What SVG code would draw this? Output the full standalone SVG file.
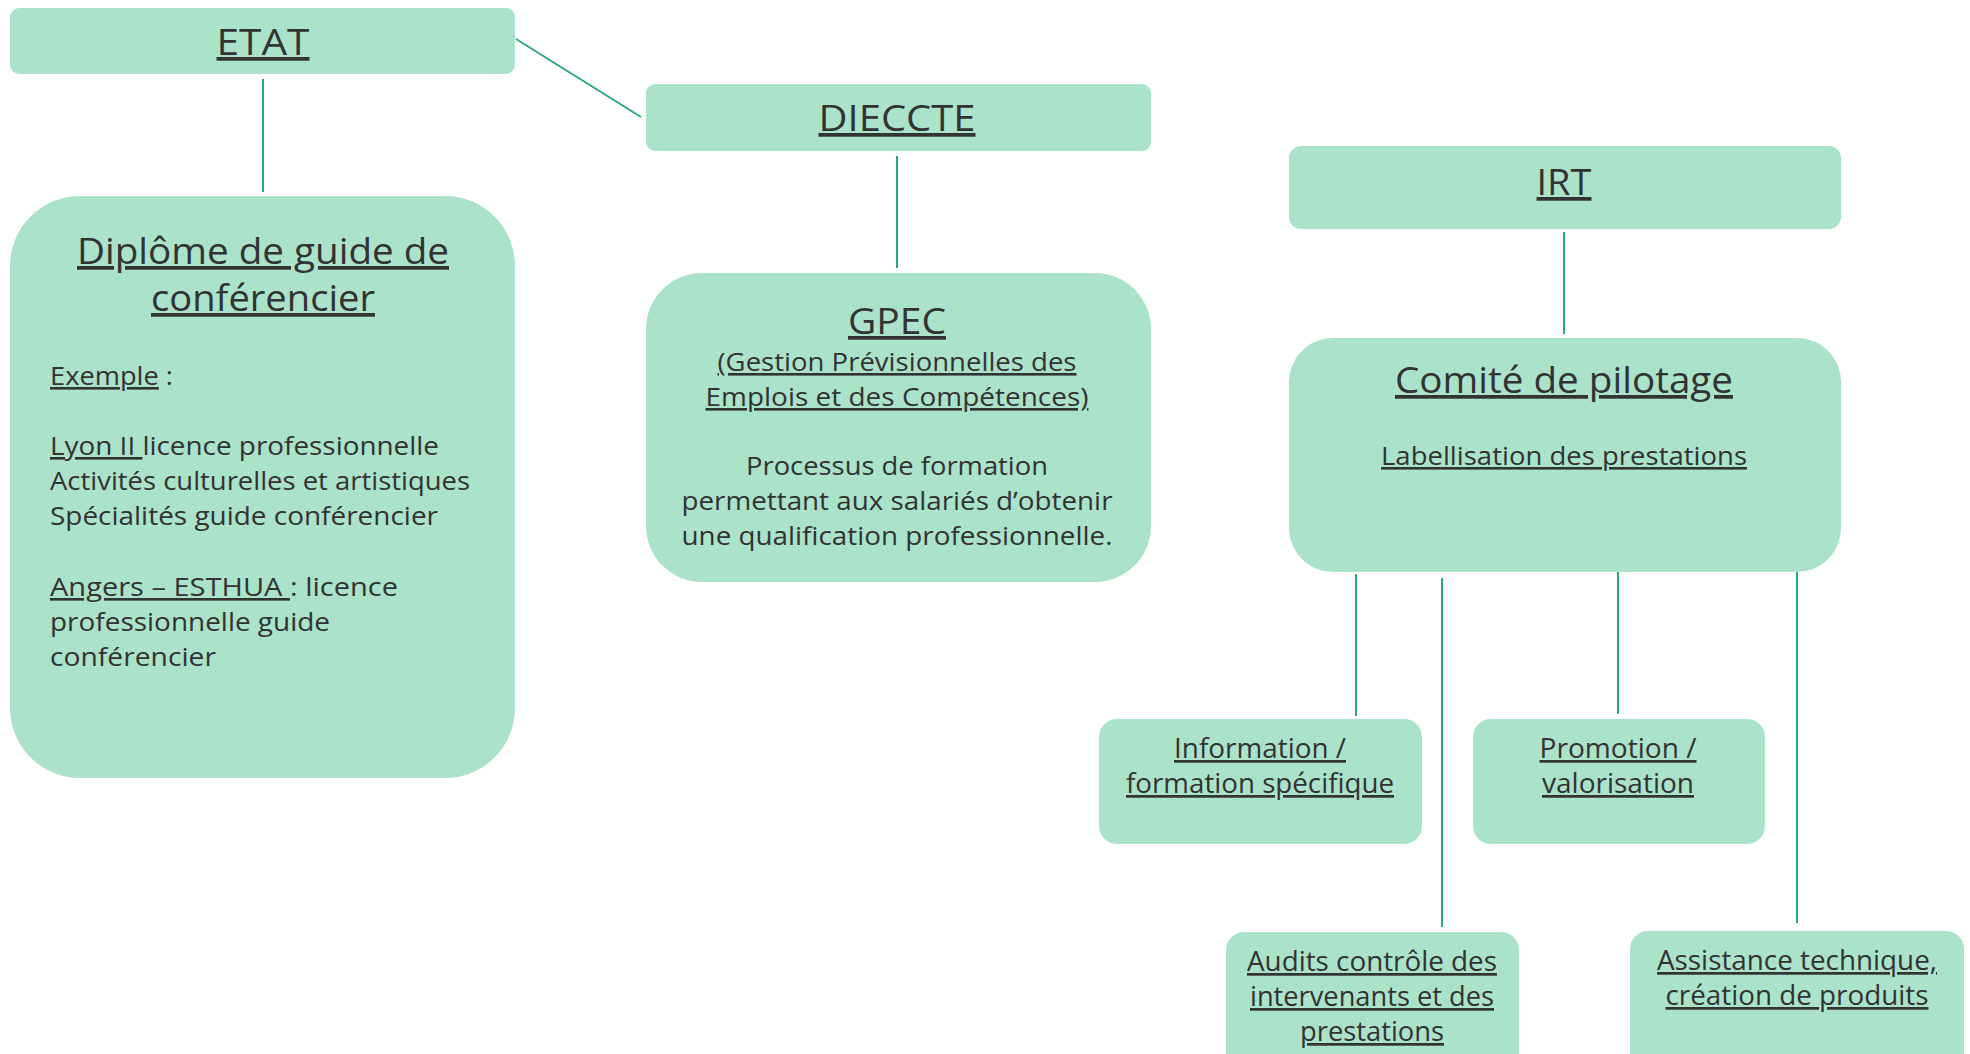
<svg xmlns="http://www.w3.org/2000/svg" width="1970" height="1054" viewBox="0 0 1970 1054">
<style>
.box{fill:#aae2ca;}
.t{font-family:"Open Sans","Noto Sans","DejaVu Sans",sans-serif;fill:#333333;}
.h{font-size:37px;text-anchor:middle;text-decoration:underline;}
.b{font-size:26px;}
.c{font-size:26px;text-anchor:middle;}
.u{text-decoration:underline;}
.s{font-size:27px;text-anchor:middle;text-decoration:underline;}
.ln{stroke:#2fa878;stroke-width:2;fill:none;}
</style>
<rect width="1970" height="1054" fill="#ffffff"/>
<g id="connectors">
<line class="ln" x1="516" y1="39" x2="641" y2="117"/>
<line class="ln" x1="263" y1="79" x2="263" y2="192"/>
<line class="ln" x1="897" y1="156" x2="897" y2="268"/>
<line class="ln" x1="1564" y1="232" x2="1564" y2="334"/>
<line class="ln" x1="1356" y1="574" x2="1356" y2="716"/>
<line class="ln" x1="1442" y1="578" x2="1442" y2="927"/>
<line class="ln" x1="1618" y1="572" x2="1618" y2="714"/>
<line class="ln" x1="1797" y1="572" x2="1797" y2="923"/>
</g>
<g id="etat">
<rect class="box" x="10" y="8" width="505" height="66" rx="9"/>
<text class="t h" x="263" y="55" textLength="93" lengthAdjust="spacingAndGlyphs">ETAT</text>
</g>
<g id="diplome">
<rect class="box" x="10" y="196" width="505" height="582" rx="70"/>
<text class="t h" x="263" y="264" textLength="372" lengthAdjust="spacingAndGlyphs">Diplôme de guide de</text>
<text class="t h" x="263" y="311" textLength="224" lengthAdjust="spacingAndGlyphs">conférencier</text>
<text class="t b" x="50" y="385" textLength="123" lengthAdjust="spacingAndGlyphs"><tspan class="u">Exemple</tspan> :</text>
<text class="t b" x="50" y="455" textLength="389" lengthAdjust="spacingAndGlyphs"><tspan class="u">Lyon II </tspan>licence professionnelle</text>
<text class="t b" x="50" y="490" textLength="420" lengthAdjust="spacingAndGlyphs">Activités culturelles et artistiques</text>
<text class="t b" x="50" y="525" textLength="388" lengthAdjust="spacingAndGlyphs">Spécialités guide conférencier</text>
<text class="t b" x="50" y="596" textLength="348" lengthAdjust="spacingAndGlyphs"><tspan class="u">Angers – ESTHUA </tspan>: licence</text>
<text class="t b" x="50" y="631" textLength="280" lengthAdjust="spacingAndGlyphs">professionnelle guide</text>
<text class="t b" x="50" y="666" textLength="166" lengthAdjust="spacingAndGlyphs">conférencier</text>
</g>
<g id="dieccte">
<rect class="box" x="646" y="84" width="505" height="67" rx="9"/>
<text class="t h" x="897" y="131" textLength="157" lengthAdjust="spacingAndGlyphs">DIECCTE</text>
</g>
<g id="gpec">
<rect class="box" x="646" y="273" width="505" height="309" rx="56"/>
<text class="t h" x="897" y="334" textLength="98" lengthAdjust="spacingAndGlyphs">GPEC</text>
<text class="t c u" x="897" y="371" textLength="359" lengthAdjust="spacingAndGlyphs">(Gestion Prévisionnelles des</text>
<text class="t c u" x="897" y="406" textLength="383" lengthAdjust="spacingAndGlyphs">Emplois et des Compétences)</text>
<text class="t c" x="897" y="475" textLength="302" lengthAdjust="spacingAndGlyphs">Processus de formation</text>
<text class="t c" x="897" y="510" textLength="431" lengthAdjust="spacingAndGlyphs">permettant aux salariés d’obtenir</text>
<text class="t c" x="897" y="545" textLength="431" lengthAdjust="spacingAndGlyphs">une qualification professionnelle.</text>
</g>
<g id="irt">
<rect class="box" x="1289" y="146" width="552" height="83" rx="12"/>
<text class="t h" x="1564" y="195" textLength="55" lengthAdjust="spacingAndGlyphs">IRT</text>
</g>
<g id="comite">
<rect class="box" x="1289" y="338" width="552" height="234" rx="44"/>
<text class="t h" x="1564" y="393" textLength="338" lengthAdjust="spacingAndGlyphs">Comité de pilotage</text>
<text class="t c u" x="1564" y="465" textLength="366" lengthAdjust="spacingAndGlyphs">Labellisation des prestations</text>
</g>
<g id="information">
<rect class="box" x="1099" y="719" width="323" height="125" rx="18"/>
<text class="t s" x="1260" y="758" textLength="172" lengthAdjust="spacingAndGlyphs">Information /</text>
<text class="t s" x="1260" y="793" textLength="268" lengthAdjust="spacingAndGlyphs">formation spécifique</text>
</g>
<g id="promotion">
<rect class="box" x="1473" y="719" width="292" height="125" rx="18"/>
<text class="t s" x="1618" y="758" textLength="157" lengthAdjust="spacingAndGlyphs">Promotion /</text>
<text class="t s" x="1618" y="793" textLength="152" lengthAdjust="spacingAndGlyphs">valorisation</text>
</g>
<g id="audits">
<rect class="box" x="1226" y="932" width="293" height="140" rx="18"/>
<text class="t s" x="1372" y="971" textLength="250" lengthAdjust="spacingAndGlyphs">Audits contrôle des</text>
<text class="t s" x="1372" y="1006" textLength="244" lengthAdjust="spacingAndGlyphs">intervenants et des</text>
<text class="t s" x="1372" y="1041" textLength="144" lengthAdjust="spacingAndGlyphs">prestations</text>
</g>
<g id="assistance">
<rect class="box" x="1630" y="931" width="334" height="140" rx="18"/>
<text class="t s" x="1797" y="970" textLength="280" lengthAdjust="spacingAndGlyphs">Assistance technique,</text>
<text class="t s" x="1797" y="1005" textLength="263" lengthAdjust="spacingAndGlyphs">création de produits</text>
</g>
</svg>
